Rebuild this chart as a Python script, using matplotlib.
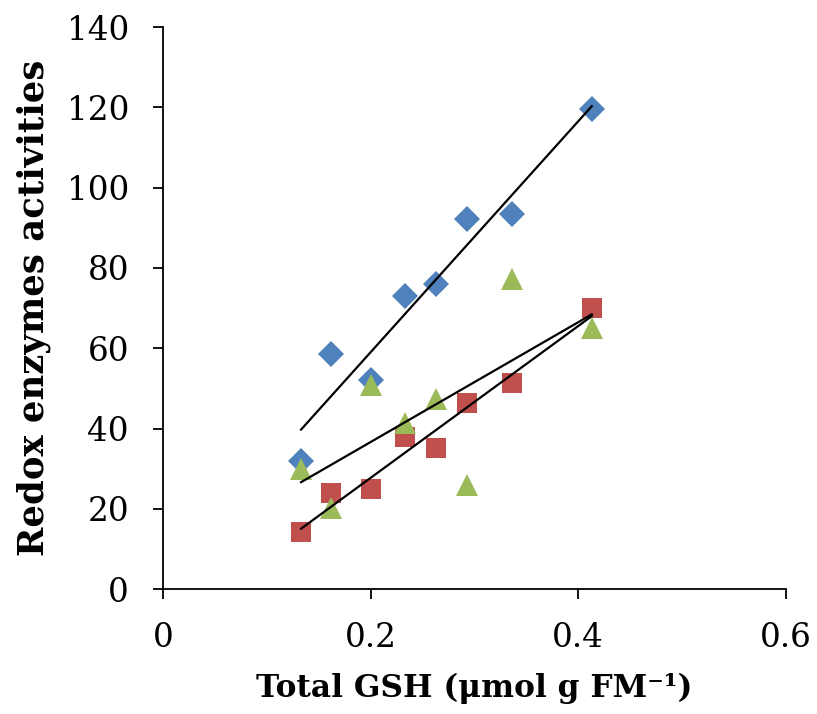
import matplotlib
matplotlib.use("Agg")
import matplotlib.pyplot as plt
import numpy as np

gsh = [0.133, 0.162, 0.200, 0.233, 0.263, 0.293, 0.336, 0.413]
blue_vals = [32.0, 58.5, 52.0, 73.0, 76.0, 92.2, 93.4, 119.6]
red_vals = [14.2, 23.9, 24.9, 37.9, 35.1, 46.3, 51.3, 70.0]
green_vals = [29.9, 20.2, 50.8, 41.4, 47.3, 25.9, 77.2, 65.0]
x_ticks = [0, 0.2, 0.4, 0.6]
x_tick_labels = ["0", "0.2", "0.4", "0.6"]
y_ticks = [0, 20, 40, 60, 80, 100, 120, 140]

plt.rcParams['font.family'] = ['DejaVu Serif']

fig = plt.figure(figsize=(8.17, 7.14), dpi=100)
ax = fig.add_axes([0.1995, 0.175, 0.7625, 0.787])

series = [
    (blue_vals, 'D', '#4F81BD', 13),
    (red_vals, 's', '#C0504D', 14.5),
    (green_vals, '^', '#9BBB59', 15.5),
]
x = np.array(gsh)
for vals, m, c, ms in series:
    ax.plot(x, vals, linestyle='none', marker=m, color=c, markersize=ms,
            markeredgewidth=0, zorder=3)
for vals, m, c, ms in series:
    k, b = np.polyfit(x, vals, 1)
    xs = np.array([x.min(), x.max()])
    ax.plot(xs, k * xs + b, color='black', linewidth=1.6, zorder=4)

ax.set_xlim(0, 0.6)
ax.set_ylim(0, 140)
ax.set_xticks(x_ticks)
ax.set_xticklabels(x_tick_labels)
ax.set_yticks(y_ticks)
for s in ['top', 'right']:
    ax.spines[s].set_visible(False)
for s in ['left', 'bottom']:
    ax.spines[s].set_linewidth(1.3)
ax.tick_params(axis='both', direction='out', length=7.5, width=1.3, labelsize=23.5)
ax.tick_params(axis='x', pad=16)
ax.tick_params(axis='y', pad=17)

ax.set_xlabel("Total GSH (\u03bcmol g FM\u207b\u00b9)", fontsize=22.5, fontweight='bold', labelpad=14)
ax.set_ylabel("Redox enzymes activities", fontsize=25.5, fontweight='bold', labelpad=11)

fig.savefig("out.png", dpi=100)
